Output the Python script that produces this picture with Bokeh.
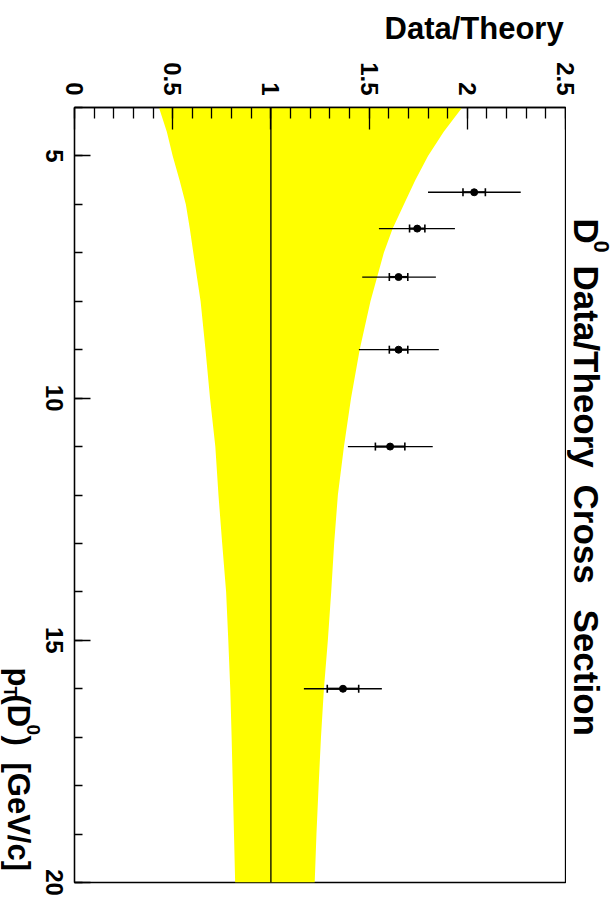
import math
from bokeh.plotting import figure
from bokeh.layouts import column, row
from bokeh.models import Range1d, FixedTicker, Span, ColumnDataSource, Spacer
from bokeh.core.properties import value
from bokeh.embed import file_html
from bokeh.resources import INLINE

# ---------------- data ----------------
# theory uncertainty band (Data/Theory = 1 +- uncertainty) vs pT
band_pt = [4.0, 4.5, 5.0, 5.5, 6.0, 6.5, 7.0, 8.0, 9.0, 10.0, 11.0, 12.0,
           13.0, 14.0, 15.0, 16.0, 17.0, 18.0, 19.0, 20.0]
band_lo = [0.430, 0.470, 0.500, 0.535, 0.567, 0.587, 0.605, 0.642, 0.667, 0.690,
           0.717, 0.733, 0.752, 0.772, 0.783, 0.793, 0.800, 0.806, 0.812, 0.818]
band_hi = [1.974, 1.880, 1.800, 1.735, 1.677, 1.620, 1.575, 1.507, 1.452, 1.408,
           1.372, 1.341, 1.322, 1.307, 1.290, 1.270, 1.255, 1.243, 1.232, 1.223]

# measured points
pt = [5.75, 6.5, 7.5, 9.0, 11.0, 16.0]
ratio = [2.035, 1.745, 1.650, 1.650, 1.607, 1.367]
stat_err = [0.057, 0.039, 0.047, 0.047, 0.075, 0.080]
tot_err_lo = [0.235, 0.195, 0.185, 0.202, 0.215, 0.199]
tot_err_hi = [0.237, 0.192, 0.190, 0.205, 0.217, 0.198]

ratio_ticks = [0, 0.5, 1, 1.5, 2, 2.5]
ratio_tick_labels = ["0", "0.5", "1", "1.5", "2", "2.5"]
ratio_minor = [i / 10 for i in range(26)]
pt_ticks = [5, 10, 15, 20]
pt_tick_labels = ["5", "10", "15", "20"]
pt_minor = list(range(4, 21))

# ---------------- geometry ----------------
X0, X1 = 0.0, 2.5
Y0, Y1 = 4.0, 20.0
FW, FH = 491, 775
FL, FT = 74, 107          # frame position on the page (px)
PW, PH = 614, 897
B = 2                     # small border around the frame of the main figure
BR = 1                    # right border (keeps room for the title)
XS = FW / (X1 - X0)
YS = FH / (Y1 - Y0)
FONT = "Liberation Sans"
ROT = -math.pi / 2        # clockwise: text reads top to bottom


def px2x(px):
    return X0 + (px - FL) / XS


def px2y(py):
    return Y0 + (py - FT) / YS


def blank(w, h, xr, yr):
    f = figure(width=w, height=h, x_range=xr, y_range=yr, title=None,
               x_axis_type=None, y_axis_type=None, output_backend="svg",
               toolbar_location=None, min_border=0,
               background_fill_color="white", border_fill_color="white")
    f.outline_line_color = None
    return f


def txt(f, xs, ys, texts, size, angle=ROT, align="left", baseline="middle"):
    f.text(x=xs, y=ys, text=texts, angle=angle,
           text_font=value(FONT), text_font_size=value(f"{size}px"),
           text_font_style="bold", text_color="black",
           text_align=align, text_baseline=baseline)


# ---------------- main plot ----------------
p = figure(frame_width=FW, frame_height=FH, title=None,
           x_range=Range1d(X0, X1), y_range=Range1d(Y1, Y0),
           x_axis_location="above", y_axis_location="left",
           output_backend="svg", toolbar_location=None,
           min_border_left=B, min_border_top=B, min_border_right=BR, min_border_bottom=B,
           background_fill_color="white", border_fill_color="white")
p.xgrid.visible = False
p.ygrid.visible = False
p.outline_line_color = "black"
p.outline_line_width = 1.3

xa = p.xaxis[0]
xa.ticker = FixedTicker(ticks=ratio_ticks, minor_ticks=ratio_minor)
ya = p.yaxis[0]
ya.ticker = FixedTicker(ticks=pt_ticks, minor_ticks=pt_minor)
for ax, mj, mn in ((xa, 22, 11), (ya, 16, 8)):
    ax.major_tick_in = mj
    ax.major_tick_out = 0
    ax.minor_tick_in = mn
    ax.minor_tick_out = 0
    ax.axis_line_color = "black"
    ax.axis_line_width = 1.3
    ax.major_tick_line_color = "black"
    ax.major_tick_line_width = 1.3
    ax.minor_tick_line_color = "black"
    ax.minor_tick_line_width = 1.3
    ax.major_label_text_color = None   # labels drawn rotated in the side strips
    ax.major_label_standoff = 0

p.harea(y=band_pt, x1=band_lo, x2=band_hi, fill_color="#ffff00")
p.add_layout(Span(location=1.0, dimension="height", line_color="black", line_width=1.3))

src = ColumnDataSource(dict(
    pt=pt, r=ratio,
    tlo=[r - e for r, e in zip(ratio, tot_err_lo)],
    thi=[r + e for r, e in zip(ratio, tot_err_hi)],
    slo=[r - e for r, e in zip(ratio, stat_err)],
    shi=[r + e for r, e in zip(ratio, stat_err)],
))
p.segment(x0="tlo", x1="thi", y0="pt", y1="pt", source=src, line_color="black", line_width=1.3)
p.segment(x0="slo", x1="shi", y0="pt", y1="pt", source=src, line_color="black", line_width=2.2)
p.scatter(x="slo", y="pt", source=src, marker="dash", angle=math.pi / 2, size=8,
          line_color="black", line_width=1.6)
p.scatter(x="shi", y="pt", source=src, marker="dash", angle=math.pi / 2, size=8,
          line_color="black", line_width=1.6)
p.scatter(x="r", y="pt", source=src, marker="circle", size=7,
          fill_color="black", line_color="black")

# ---------------- side strips with the (rotated) texts ----------------
TOPH = FT - B                  # 105
LEFTW = FL - B                 # 72
MAINW = FW + B + BR
MAINH = FH + 2 * B
RIGHTW = PW - LEFTW - MAINW
SIDEH = PH - TOPH
BOTH = SIDEH - MAINH

# top strip: x in data units (same scale as the plot), y in page pixels
top = blank(PW, TOPH, Range1d(px2x(0), px2x(PW)), Range1d(TOPH, 0))
txt(top, ratio_ticks, [95] * len(ratio_ticks), ratio_tick_labels, 24, align="right")
txt(top, [px2x(384)], [27.5], ["Data/Theory"], 31, angle=0.0)

# left strip: x in page pixels, y in pT units
left = blank(LEFTW, SIDEH, Range1d(0, LEFTW), Range1d(px2y(PH), px2y(TOPH)))
txt(left, [53.5] * len(pt_ticks), pt_ticks, pt_tick_labels, 24, align="center")
txt(left, [18], [px2y(667)], ["p"], 31)
txt(left, [9], [px2y(686)], ["T"], 18)
txt(left, [18], [px2y(694)], ["(D"], 31)
txt(left, [32.5], [px2y(724)], ["0"], 19)
txt(left, [18], [px2y(735)], [")"], 31)
txt(left, [18], [px2y(762)], ["[GeV/c]"], 31)

# right strip: page pixels
right = blank(RIGHTW, SIDEH, Range1d(PW - RIGHTW, PW), Range1d(PH, TOPH))
TC = 585.7
txt(right, [TC], [218], ["D"], 35)
txt(right, [601], [240], ["0"], 22)
txt(right, [TC], [265], ["Data/Theory"], 35)
txt(right, [TC], [484], ["Cross"], 35)
txt(right, [TC], [609], ["Section"], 35)

layout = column(top, row(left, column(p, Spacer(width=MAINW, height=BOTH)), right))

open("out.html", "w").write(file_html(layout, INLINE))
